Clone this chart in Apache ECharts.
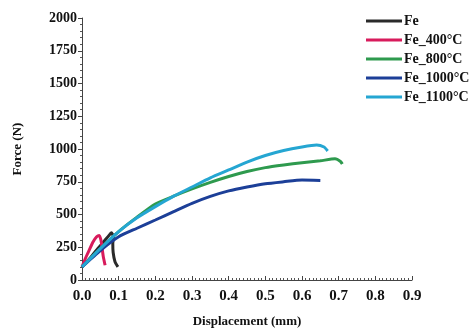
<!DOCTYPE html>
<html>
<head>
<meta charset="utf-8">
<script src="https://cdn.jsdelivr.net/npm/echarts@6/dist/echarts.min.js"></script>
<style>html,body{margin:0;padding:0;background:#fff}#c{width:472px;height:333px}</style>
</head>
<body>
<div id="c"></div>
<script>
const seriesNames = ['Fe', 'Fe_400°C', 'Fe_800°C', 'Fe_1000°C', 'Fe_1100°C'];
const seriesColors = ['#2a2a2a', '#d81b5c', '#2e9a4e', '#1c3f98', '#25a6d2'];

const feX = [0, 0.02, 0.04, 0.06, 0.072, 0.08, 0.086, 0.084, 0.085, 0.09, 0.098];
const feY = [100, 160, 230, 295, 335, 360, 330, 280, 210, 140, 100];

const fe400X = [0, 0.01, 0.02, 0.03, 0.04, 0.047, 0.052, 0.055, 0.058, 0.063];
const fe400Y = [100, 170, 230, 290, 330, 340, 300, 240, 180, 113];

const fe800X = [0, 0.05, 0.1, 0.15, 0.2, 0.25, 0.3, 0.35, 0.4, 0.45, 0.5, 0.55, 0.6, 0.65, 0.69, 0.705, 0.71];
const fe800Y = [100, 240, 370, 480, 580, 640, 695, 745, 790, 828, 858, 878, 895, 910, 925, 905, 885];

const fe1000X = [0, 0.05, 0.1, 0.15, 0.2, 0.25, 0.3, 0.35, 0.4, 0.45, 0.5, 0.55, 0.6, 0.65];
const fe1000Y = [100, 225, 330, 395, 458, 522, 585, 638, 680, 710, 735, 750, 763, 760];

const fe1100X = [0, 0.05, 0.1, 0.15, 0.2, 0.25, 0.3, 0.35, 0.4, 0.45, 0.5, 0.55, 0.6, 0.64, 0.66, 0.67];
const fe1100Y = [100, 240, 370, 475, 560, 640, 710, 780, 840, 900, 950, 988, 1015, 1030, 1015, 985];

const xTicks = ['0.0','0.1','0.2','0.3','0.4','0.5','0.6','0.7','0.8','0.9'];
const yTicks = ['0','250','500','750','1000','1250','1500','1750','2000'];

const allX = [feX, fe400X, fe800X, fe1000X, fe1100X];
const allY = [feY, fe400Y, fe800Y, fe1000Y, fe1100Y];

const font = 'Liberation Serif';
const chart = echarts.init(document.getElementById('c'), null, {renderer: 'canvas'});
chart.setOption({
  animation: false,
  backgroundColor: '#fff',
  grid: {left: 82, right: 60, top: 18, bottom: 50},
  legend: {
    orient: 'vertical', left: 361, top: 9, itemWidth: 36, itemHeight: 3, itemGap: 5,
    icon: 'rect',
    textStyle: {fontFamily: font, fontWeight: 'bold', fontSize: 14, color: '#111', padding: [0,0,0,-3]},
    data: seriesNames
  },
  xAxis: {
    type: 'value', min: 0, max: 0.9, interval: 0.1,
    name: 'Displacement (mm)', nameLocation: 'middle', nameGap: 35,
    nameTextStyle: {fontFamily: font, fontWeight: 'bold', fontSize: 13, color: '#111'},
    axisLine: {show: true, lineStyle: {color: '#444', width: 1}},
    axisTick: {show: true, inside: true, length: 4, lineStyle: {color: '#444'}},
    minorTick: {show: true, splitNumber: 10, length: 2, lineStyle: {color: '#555'}},
    splitLine: {show: false},
    axisLabel: {fontFamily: font, fontWeight: 'bold', fontSize: 15, color: '#111', margin: 9,
      formatter: (v) => xTicks[Math.round(v * 10)]}
  },
  yAxis: {
    type: 'value', min: 0, max: 2000, interval: 250,
    name: 'Force (N)', nameLocation: 'middle', nameGap: 58,
    nameTextStyle: {fontFamily: font, fontWeight: 'bold', fontSize: 13, color: '#111'},
    axisLine: {show: true, lineStyle: {color: '#444', width: 1}},
    axisTick: {show: true, inside: false, length: 4, lineStyle: {color: '#444'}},
    minorTick: {show: true, splitNumber: 5, length: 2, lineStyle: {color: '#555'}},
    splitLine: {show: false},
    axisLabel: {fontFamily: font, fontWeight: 'bold', fontSize: 14, color: '#111', margin: 5,
      formatter: (v) => yTicks[Math.round(v / 250)]}
  },
  series: seriesNames.map((n, i) => ({
    name: n, type: 'line', showSymbol: false, smooth: 0.2,
    lineStyle: {width: 3, color: seriesColors[i]},
    itemStyle: {color: seriesColors[i]},
    data: allX[i].map((x, j) => [x, allY[i][j]])
  }))
});
</script>
</body>
</html>
